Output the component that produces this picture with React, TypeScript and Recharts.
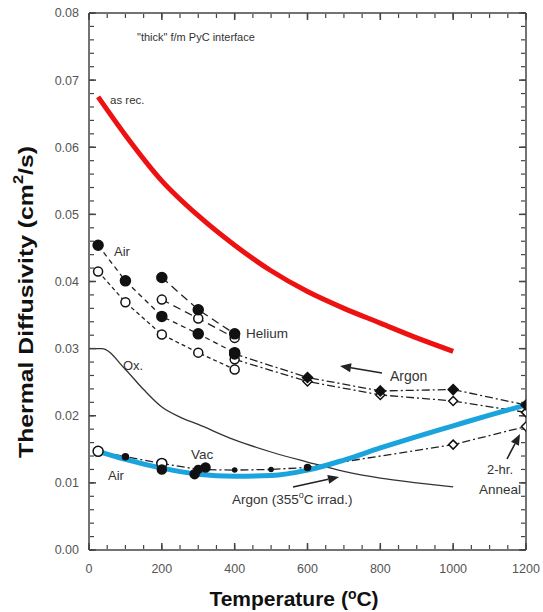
import React from 'react';
import { ComposedChart, Line, XAxis, YAxis, Customized } from 'recharts';

// ---------- data ----------
const asRecT = [25, 100, 200, 300, 400, 500, 600, 700, 800, 900, 1000];
const asRecV = [0.0675, 0.0618, 0.055, 0.0498, 0.0454, 0.0416, 0.0385, 0.036, 0.0338, 0.0316, 0.0296];

const oxT = [15, 35, 100, 150, 200, 250, 300, 400, 500, 600, 700, 800, 900, 1000];
const oxV = [0.03, 0.03, 0.0269, 0.0239, 0.0213, 0.0198, 0.0187, 0.0164, 0.0146, 0.0131, 0.0117, 0.0107, 0.01, 0.0094];

const irradT = [25, 100, 200, 300, 400, 500, 600, 700, 800, 900, 1000, 1100, 1200];
const irradV = [0.0147, 0.0135, 0.0122, 0.0113, 0.011, 0.0111, 0.0119, 0.0134, 0.0152, 0.0169, 0.0185, 0.0201, 0.0216];

const airT = [25, 100, 200, 300, 400];
const airFilledV = [0.0454, 0.0401, 0.0348, 0.0322, 0.0294];
const airOpenV = [0.0415, 0.0369, 0.0321, 0.0294, 0.0269];

const heliumT = [200, 300, 400];
const heliumFilledV = [0.0406, 0.0358, 0.0322];
const heliumOpenV = [0.0373, 0.0345, 0.0316];

const argonT = [400, 600, 800, 1000, 1200];
const argonFilledV = [0.0292, 0.0257, 0.0237, 0.0239, 0.0216];
const argonOpenV = [0.0284, 0.0251, 0.0231, 0.0222, 0.0205];

const lowT = [25, 100, 200, 300, 400, 500, 600, 1000, 1200];
const lowV = [0.0147, 0.0139, 0.0129, 0.012, 0.0119, 0.012, 0.0123, 0.0157, 0.0184];

const vacT = [200, 290, 320];
const vacV = [0.012, 0.0113, 0.0123];

const xTicks = [0, 200, 400, 600, 800, 1000, 1200];
const yTicks = [0, 0.01, 0.02, 0.03, 0.04, 0.05, 0.06, 0.07, 0.08];
const xMinorTicks = Array.from({ length: 25 }, (_, i) => i * 50);
const yMinorTicks = Array.from({ length: 41 }, (_, i) => +(i * 0.002).toFixed(3));

const pts = (ts: number[], vs: number[]) => ts.map((t, i) => ({ t, v: vs[i] }));

// ---------- markers ----------
type Mk = { shape: 'circle' | 'diamond' | 'none'; filled: boolean; r: number };
const makeDot = (style: (i: number) => Mk) => (p: any) => {
  const { cx, cy, index } = p;
  const key = `d-${p.dataKey}-${index}-${cx}`;
  if (cx == null || cy == null) return <g key={key} />;
  const m = style(index);
  if (m.shape === 'none') return <g key={key} />;
  const fill = m.filled ? '#111' : '#fff';
  if (m.shape === 'circle') {
    return <circle key={key} cx={cx} cy={cy} r={m.r} fill={fill} stroke="#111" strokeWidth={1.5} />;
  }
  const r = m.r;
  return (
    <polygon
      key={key}
      points={`${cx},${cy - r} ${cx + r},${cy} ${cx},${cy + r} ${cx - r},${cy}`}
      fill={fill}
      stroke="#111"
      strokeWidth={1.5}
    />
  );
};

const filledCircle = makeDot(() => ({ shape: 'circle', filled: true, r: 5 }));
const openCircle = makeDot(() => ({ shape: 'circle', filled: false, r: 4.5 }));
const argonFilledDot = makeDot((i) => (i === 0 ? { shape: 'circle', filled: true, r: 5 } : { shape: 'diamond', filled: true, r: 5 }));
const argonOpenDot = makeDot((i) => (i === 0 ? { shape: 'circle', filled: false, r: 4.5 } : { shape: 'diamond', filled: false, r: 4.5 }));
const lowStyles: Mk[] = [
  { shape: 'circle', filled: false, r: 5 },
  { shape: 'circle', filled: true, r: 3 },
  { shape: 'circle', filled: false, r: 5 },
  { shape: 'circle', filled: true, r: 4 },
  { shape: 'circle', filled: true, r: 2 },
  { shape: 'circle', filled: true, r: 2 },
  { shape: 'circle', filled: true, r: 3 },
  { shape: 'diamond', filled: false, r: 4.5 },
  { shape: 'diamond', filled: false, r: 4.5 },
];
const lowDot = makeDot((i) => lowStyles[i]);
const vacDot = makeDot(() => ({ shape: 'circle', filled: true, r: 4.5 }));

const EmptyTick = () => <g />;

// ---------- annotations ----------
const FONT = '"Liberation Sans", Arial, Helvetica, sans-serif';

const Arrow = ({ x1, y1, x2, y2 }: { x1: number; y1: number; x2: number; y2: number }) => {
  const a = Math.atan2(y2 - y1, x2 - x1);
  const L = 11;
  const W = 4.5;
  const bx = x2 - L * Math.cos(a);
  const by = y2 - L * Math.sin(a);
  const px = -Math.sin(a) * W;
  const py = Math.cos(a) * W;
  return (
    <g>
      <line x1={x1} y1={y1} x2={bx} y2={by} stroke="#222" strokeWidth={1.6} />
      <polygon points={`${x2},${y2} ${bx + px},${by + py} ${bx - px},${by - py}`} fill="#222" />
    </g>
  );
};

const Annotations = () => (
  <g fontFamily={FONT} fill="#333">
    <text x={137} y={41} fontSize={11}>"thick" f/m PyC interface</text>
    <text x={110} y={104} fontSize={11.5}>as rec.</text>
    <text x={114} y={256} fontSize={13}>Air</text>
    <text x={246} y={338} fontSize={13.5}>Helium</text>
    <text x={123} y={370} fontSize={13}>Ox.</text>
    <text x={390} y={381} fontSize={14}>Argon</text>
    <Arrow x1={382} y1={373} x2={340} y2={366} />
    <text x={191} y={459} fontSize={13.5}>Vac</text>
    <text x={108} y={480} fontSize={13}>Air</text>
    <text x={232} y={504} fontSize={13.5}>
      Argon (355<tspan dy={-6} fontSize={9}>o</tspan>
      <tspan dy={6}>C irrad.)</tspan>
    </text>
    <Arrow x1={293} y1={487} x2={339} y2={477} />
    <text x={513} y={474} fontSize={13} textAnchor="end">2-hr.</text>
    <text x={521} y={494} fontSize={13.5} textAnchor="end">Anneal</text>
    <Arrow x1={507} y1={459} x2={520} y2={434} />
    <text
      x={25}
      y={302}
      transform="rotate(-90 25 302)"
      textAnchor="middle"
      dominantBaseline="central"
      fontSize={21}
      fontWeight="bold"
      fill="#111"
      textLength={312}
      lengthAdjust="spacingAndGlyphs"
    >
      Thermal Diffusivity (cm<tspan dy={-7} fontSize={14}>2</tspan>
      <tspan dy={7}>/s)</tspan>
    </text>
    <text x={294} y={606} textAnchor="middle" fontSize={21} fontWeight="bold" fill="#111">
      Temperature (<tspan dy={-7} fontSize={14}>o</tspan>
      <tspan dy={7}>C)</tspan>
    </text>
  </g>
);

const AXIS = '#444';

export default function App() {
  const common = { xAxisId: 'x', yAxisId: 'y', dataKey: 'v', isAnimationActive: false, activeDot: false as any };
  const ghost = { dataKey: 'v', isAnimationActive: false, activeDot: false as any, stroke: 'none', dot: false, data: pts(asRecT, asRecV) };
  const mx = { dataKey: 't', type: 'number' as const, domain: [0, 1200], allowDataOverflow: true, mirror: true, interval: 0, tick: EmptyTick, height: 1 };
  const my = { type: 'number' as const, domain: [0, 0.08], allowDataOverflow: true, mirror: true, interval: 0, tick: EmptyTick, width: 1 };
  return (
    <div style={{ position: 'absolute', left: 0, top: 0, background: '#fff' }}>
      <ComposedChart width={543} height={612} margin={{ top: 13, right: 17, bottom: 0, left: 0 }}>
        <XAxis
          xAxisId="x"
          dataKey="t"
          type="number"
          domain={[0, 1200]}
          allowDataOverflow
          ticks={xTicks}
          interval={0}
          height={62}
          tickLine={false}
          tickSize={0}
          tickMargin={14}
          axisLine={{ stroke: AXIS, strokeWidth: 1.5 }}
          tick={{ fontSize: 12.5, fill: '#555', fontFamily: FONT }}
        />
        <YAxis
          yAxisId="y"
          type="number"
          domain={[0, 0.08]}
          allowDataOverflow
          ticks={yTicks}
          interval={0}
          width={89}
          tickLine={false}
          tickSize={0}
          tickMargin={10}
          axisLine={{ stroke: AXIS, strokeWidth: 1.5 }}
          tickFormatter={(v: number) => v.toFixed(2)}
          tick={{ fontSize: 12.5, fill: '#555', fontFamily: FONT }}
        />
        {/* inward tick marks and frame */}
        <XAxis {...mx} xAxisId="xbM" orientation="bottom" ticks={xTicks} tickSize={7} axisLine={false} tickLine={{ stroke: AXIS, strokeWidth: 1.5 }} />
        <XAxis {...mx} xAxisId="xbm" orientation="bottom" ticks={xMinorTicks} tickSize={4} axisLine={false} tickLine={{ stroke: AXIS, strokeWidth: 1.2 }} />
        <XAxis {...mx} xAxisId="xtM" orientation="top" ticks={xTicks} tickSize={7} axisLine={{ stroke: AXIS, strokeWidth: 1.5 }} tickLine={{ stroke: AXIS, strokeWidth: 1.5 }} />
        <XAxis {...mx} xAxisId="xtm" orientation="top" ticks={xMinorTicks} tickSize={4} axisLine={false} tickLine={{ stroke: AXIS, strokeWidth: 1.2 }} />
        <YAxis {...my} yAxisId="ylM" orientation="left" ticks={yTicks} tickSize={7} axisLine={false} tickLine={{ stroke: AXIS, strokeWidth: 1.5 }} />
        <YAxis {...my} yAxisId="ylm" orientation="left" ticks={yMinorTicks} tickSize={4} axisLine={false} tickLine={{ stroke: AXIS, strokeWidth: 1.2 }} />
        <YAxis {...my} yAxisId="yrM" orientation="right" ticks={yTicks} tickSize={7} axisLine={{ stroke: AXIS, strokeWidth: 1.5 }} tickLine={{ stroke: AXIS, strokeWidth: 1.5 }} />
        <YAxis {...my} yAxisId="yrm" orientation="right" ticks={yMinorTicks} tickSize={4} axisLine={false} tickLine={{ stroke: AXIS, strokeWidth: 1.2 }} />
        <Line {...ghost} xAxisId="xbM" yAxisId="ylM" />
        <Line {...ghost} xAxisId="xbm" yAxisId="ylm" />
        <Line {...ghost} xAxisId="xtM" yAxisId="yrM" />
        <Line {...ghost} xAxisId="xtm" yAxisId="yrm" />

        <Line {...common} data={pts(oxT, oxV)} type="monotone" stroke="#333" strokeWidth={1.3} dot={false} />
        <Line {...common} data={pts(asRecT, asRecV)} type="monotone" stroke="#EE1111" strokeWidth={5} dot={false} />

        <Line {...common} data={pts(argonT, argonOpenV)} type="linear" stroke="#222" strokeWidth={1.3} strokeDasharray="8 3 2 3" dot={argonOpenDot} />
        <Line {...common} data={pts(argonT, argonFilledV)} type="linear" stroke="#222" strokeWidth={1.3} strokeDasharray="8 3 2 3" dot={argonFilledDot} />
        <Line {...common} data={pts(airT, airOpenV)} type="linear" stroke="#222" strokeWidth={1.3} strokeDasharray="4 3" dot={openCircle} />
        <Line {...common} data={pts(airT, airFilledV)} type="linear" stroke="#222" strokeWidth={1.3} strokeDasharray="5 4" dot={filledCircle} />
        <Line {...common} data={pts(heliumT, heliumOpenV)} type="linear" stroke="#222" strokeWidth={1.3} strokeDasharray="8 5" dot={openCircle} />
        <Line {...common} data={pts(heliumT, heliumFilledV)} type="linear" stroke="#222" strokeWidth={1.3} strokeDasharray="8 5" dot={filledCircle} />

        <Line {...common} data={pts(lowT, lowV)} type="linear" stroke="#222" strokeWidth={1.3} strokeDasharray="8 3 2 3" dot={lowDot} />
        <Line {...common} data={pts(irradT, irradV)} type="monotone" stroke="#1AA3DC" strokeWidth={5} dot={false} />
        <Line {...common} data={pts(vacT, vacV)} type="linear" stroke="none" dot={vacDot} />

        <Customized component={Annotations} />
      </ComposedChart>
    </div>
  );
}
